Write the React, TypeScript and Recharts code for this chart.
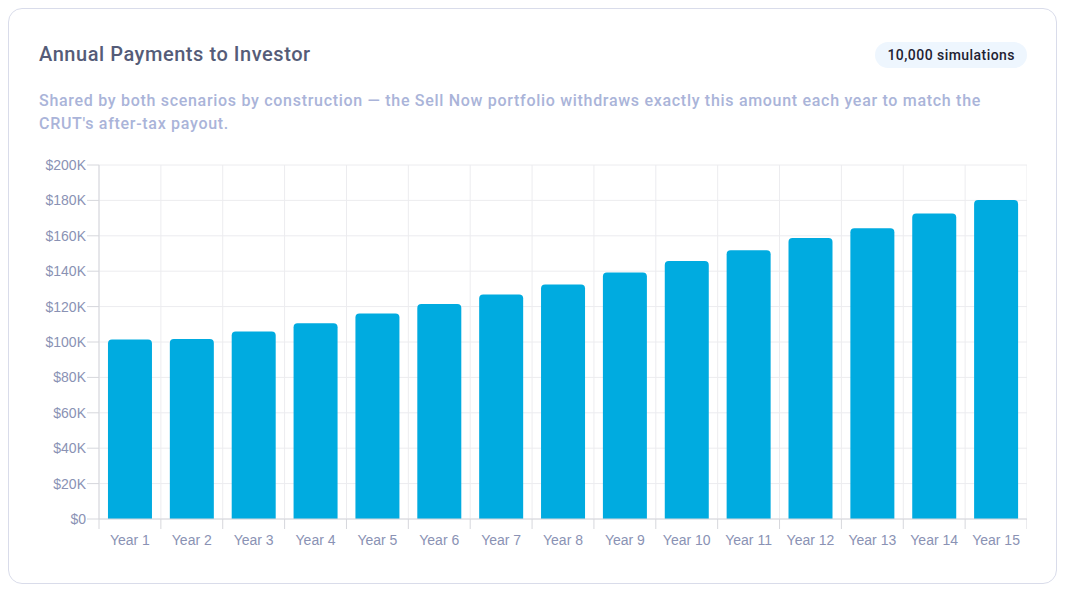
import React from 'react';
import { BarChart, Bar, XAxis, YAxis, CartesianGrid } from 'recharts';

const years: string[] = [
  'Year 1', 'Year 2', 'Year 3', 'Year 4', 'Year 5', 'Year 6', 'Year 7', 'Year 8',
  'Year 9', 'Year 10', 'Year 11', 'Year 12', 'Year 13', 'Year 14', 'Year 15',
];
const payments: number[] = [
  101400, 101700, 105900, 110600, 116100, 121500, 126800, 132500,
  139300, 145700, 151900, 158700, 164300, 172600, 180200,
];
const yTicks: number[] = [0, 20000, 40000, 60000, 80000, 100000, 120000, 140000, 160000, 180000, 200000];

const data = years.map((year, i) => ({ year, payment: payments[i] }));

const CHART_W = 988;
const CHART_H = 394;
const Y_AXIS_W = 60;
const MARGIN = { top: 10, right: 0, bottom: 0, left: 0 };
const PLOT_W = CHART_W - Y_AXIS_W - MARGIN.left - MARGIN.right;
const BAND = PLOT_W / years.length;
const X_TICK_SIZE = 10;
const X_TICK_MARGIN = 6;

const TICK_COLOR = '#8a92b4';
const GRID_COLOR = '#ececef';
const AXIS_COLOR = '#d6d7dc';
const BAR_COLOR = '#00abe0';
const AXIS_FONT = '"Liberation Sans", Arial, Helvetica, sans-serif';
const UI_FONT = 'Roboto, Inter, "Noto Sans", sans-serif';

const fmtMoney = (v: number) => (v === 0 ? '$0' : `$${Math.round(v / 1000)}K`);

const XTick = (props: any) => {
  const { x, y, payload, index } = props;
  const half = BAND / 2;
  const y1 = y - X_TICK_MARGIN - X_TICK_SIZE;
  const y2 = y - X_TICK_MARGIN;
  return (
    <g>
      <line x1={x - half} x2={x - half} y1={y1} y2={y2} stroke={AXIS_COLOR} strokeWidth={1} />
      {index === years.length - 1 && (
        <line x1={x + half} x2={x + half} y1={y1} y2={y2} stroke={AXIS_COLOR} strokeWidth={1} />
      )}
      <text
        x={x}
        y={y}
        dy="0.71em"
        textAnchor="middle"
        fill={TICK_COLOR}
        fontSize={14}
        fontFamily={AXIS_FONT}
      >
        {payload.value}
      </text>
    </g>
  );
};

export default function App() {
  return (
    <div
      style={{
        position: 'relative',
        boxSizing: 'border-box',
        width: 1049,
        height: 576,
        border: '1px solid #d9dcea',
        borderRadius: 14,
        background: '#ffffff',
        fontFamily: UI_FONT,
      }}
    >
      <div
        style={{
          position: 'absolute',
          left: 30,
          top: 35,
          fontSize: 20,
          lineHeight: '20px',
          fontWeight: 500,
          letterSpacing: '0.55px',
          color: '#555c78',
          whiteSpace: 'nowrap',
        }}
      >
        Annual Payments to Investor
      </div>
      <div
        style={{
          position: 'absolute',
          right: 29,
          top: 33,
          height: 26,
          lineHeight: '26px',
          padding: '0 12px',
          borderRadius: 13,
          background: '#eef6fe',
          color: '#1e2232',
          fontSize: 14,
          fontWeight: 500,
          letterSpacing: '0.45px',
          whiteSpace: 'nowrap',
        }}
      >
        10,000 simulations
      </div>
      <div
        style={{
          position: 'absolute',
          left: 30,
          top: 81,
          width: 990,
          fontSize: 16,
          lineHeight: '22.5px',
          fontWeight: 500,
          letterSpacing: '0.7px',
          color: '#aab4d9',
        }}
      >
        Shared by both scenarios by construction — the Sell Now portfolio withdraws exactly this amount each year to match the CRUT's after-tax payout.
      </div>
      <div style={{ position: 'absolute', left: 30, top: 146 }}>
        <BarChart width={CHART_W} height={CHART_H} data={data} margin={MARGIN} barCategoryGap="14.5%">
          <CartesianGrid
            stroke={GRID_COLOR}
            verticalCoordinatesGenerator={({ offset }: any) =>
              years.map((_, i) => offset.left + (i * offset.width) / years.length).concat([offset.left + offset.width])
            }
          />
          <XAxis
            dataKey="year"
            interval={0}
            height={30}
            tickLine={false}
            tickSize={X_TICK_SIZE}
            tickMargin={X_TICK_MARGIN}
            axisLine={{ stroke: AXIS_COLOR }}
            tick={<XTick />}
          />
          <YAxis
            width={Y_AXIS_W}
            domain={[0, 200000]}
            ticks={yTicks}
            interval={0}
            tickFormatter={fmtMoney}
            tickSize={12}
            tickMargin={1}
            tickLine={{ stroke: AXIS_COLOR }}
            axisLine={{ stroke: AXIS_COLOR }}
            tick={{ fill: TICK_COLOR, fontSize: 14, fontFamily: AXIS_FONT }}
          />
          <Bar dataKey="payment" fill={BAR_COLOR} radius={[4, 4, 0, 0]} isAnimationActive={false} />
        </BarChart>
      </div>
    </div>
  );
}
